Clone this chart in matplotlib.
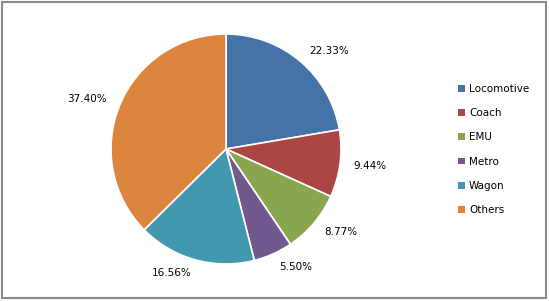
import matplotlib
matplotlib.use("Agg")
import matplotlib.pyplot as plt
from matplotlib.patches import Rectangle

categories = ["Locomotive", "Coach", "EMU", "Metro", "Wagon", "Others"]
shares = [22.33, 9.44, 8.77, 5.50, 16.56, 37.40]
colors = ["#4572A7", "#AA4643", "#89A54E", "#71588F", "#4198AF", "#DB843D"]

W, H = 549, 301
fig = plt.figure(figsize=(W / 100, H / 100), dpi=100)
plt.rcParams['font.family'] = ['DejaVu Sans']

cx, cy, r = 226, 149, 115
ax = fig.add_axes([(cx - r) / W, (H - cy - r) / H, 2 * r / W, 2 * r / H])
wedges, texts = ax.pie(
    shares,
    labels=[f"{v:.2f}%" for v in shares],
    colors=colors,
    startangle=90,
    counterclock=False,
    labeldistance=1.12,
    wedgeprops=dict(edgecolor="white", linewidth=1.2),
    textprops=dict(fontsize=7.5, color="#000000"),
)
ax.set_xlim(-1, 1)
ax.set_ylim(-1, 1)
ax.set_aspect("equal")

leg = fig.legend(
    wedges, categories,
    loc="center left",
    bbox_to_anchor=(458 / W, 1 - 149.5 / H),
    bbox_transform=fig.transFigure,
    frameon=False,
    fontsize=7.5,
    handlelength=0.65,
    handleheight=0.65,
    handletextpad=0.4,
    labelspacing=1.37,
    borderpad=0,
    borderaxespad=0,
)
for h in leg.legend_handles:
    h.set_edgecolor("none")

fig.patches.append(Rectangle((1.5 / W, 3 / H), 544 / W, 296.5 / H,
                             transform=fig.transFigure, fill=False,
                             edgecolor="#888888", linewidth=1.5))

fig.savefig("out.png", dpi=100, facecolor="white")
